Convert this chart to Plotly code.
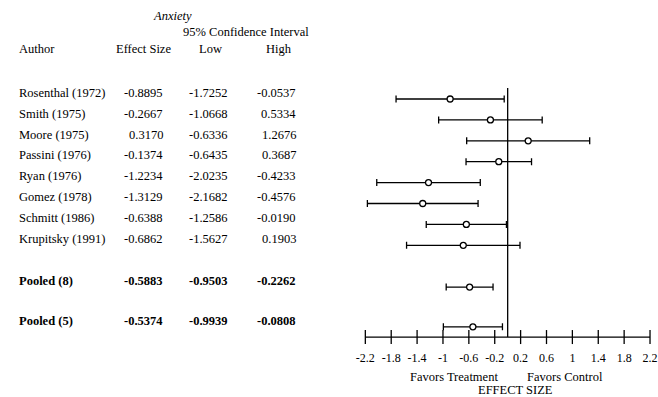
import plotly.graph_objects as go

# ---- data ----
authors = ["Rosenthal (1972)", "Smith (1975)", "Moore (1975)", "Passini (1976)",
           "Ryan (1976)", "Gomez (1978)", "Schmitt (1986)", "Krupitsky (1991)",
           "Pooled (8)", "Pooled (5)"]
effect = [-0.8895, -0.2667, 0.3170, -0.1374, -1.2234, -1.3129, -0.6388, -0.6862, -0.5883, -0.5374]
low = [-1.7252, -1.0668, -0.6336, -0.6435, -2.0235, -2.1682, -1.2586, -1.5627, -0.9503, -0.9939]
high = [-0.0537, 0.5334, 1.2676, 0.3687, -0.4233, -0.4576, -0.0190, 0.1903, -0.2262, -0.0808]
effect_txt = ["-0.8895", "-0.2667", "0.3170", "-0.1374", "-1.2234", "-1.3129", "-0.6388", "-0.6862", "-0.5883", "-0.5374"]
low_txt = ["-1.7252", "-1.0668", "-0.6336", "-0.6435", "-2.0235", "-2.1682", "-1.2586", "-1.5627", "-0.9503", "-0.9939"]
high_txt = ["-0.0537", "0.5334", "1.2676", "0.3687", "-0.4233", "-0.4576", "-0.0190", "0.1903", "-0.2262", "-0.0808"]
bold_rows = [False] * 8 + [True, True]
tick_vals = [-2.2, -1.8, -1.4, -1.0, -0.6, -0.2, 0.2, 0.6, 1.0, 1.4, 1.8, 2.2]
tick_text = ["-2.2", "-1.8", "-1.4", "-1", "-0.6", "-0.2", "0.2", "0.6", "1", "1.4", "1.8", "2.2"]

# ---- layout helpers ----
rows = [0, 1, 2, 3, 4, 5, 6, 7, 9, 10.9]   # vertical slot of each study
axis_row = 11.39
line_top = -0.53
text_shift = 0.3
FONT = "Liberation Serif"
FS = 12.5
W, H = 658, 397

fig = go.Figure()

# forest points with CI
fig.add_trace(go.Scatter(
    x=effect, y=rows, mode="markers",
    marker=dict(symbol="circle", size=6, color="white", line=dict(color="black", width=1.3)),
    error_x=dict(type="data", symmetric=False,
                 array=[h - e for h, e in zip(high, effect)],
                 arrayminus=[e - l for e, l in zip(effect, low)],
                 color="black", thickness=1.3, width=3.5),
    showlegend=False, hoverinfo="skip", cliponaxis=False))

# axis line and cross ticks
fig.add_trace(go.Scatter(
    x=[tick_vals[0], tick_vals[-1]], y=[axis_row, axis_row], mode="lines",
    line=dict(color="black", width=1.3), showlegend=False, hoverinfo="skip"))
fig.add_trace(go.Scatter(
    x=tick_vals, y=[axis_row] * len(tick_vals), mode="markers",
    marker=dict(symbol="line-ns", size=10, line=dict(color="black", width=1.3)),
    showlegend=False, hoverinfo="skip", cliponaxis=False))

# zero line
fig.add_shape(type="line", xref="x", yref="y", x0=0, x1=0, y0=line_top, y1=axis_row,
              line=dict(color="black", width=1.3))


def px(xp):
    return xp / W


def py(yp):
    return 1 - yp / H


ann = []
for i, a in enumerate(authors):
    y = rows[i] - text_shift
    b = bold_rows[i]

    def t(s):
        return f"<b>{s}</b>" if b else s
    ann.append(dict(x=px(17), y=y, xref="paper", yref="y", text=t(a), xanchor="left", yanchor="middle", showarrow=False))
    ann.append(dict(x=px(166), y=y, xref="paper", yref="y", text=t(effect_txt[i]), xanchor="right", yanchor="middle", showarrow=False))
    ann.append(dict(x=px(231), y=y, xref="paper", yref="y", text=t(low_txt[i]), xanchor="right", yanchor="middle", showarrow=False))
    ann.append(dict(x=px(299), y=y, xref="paper", yref="y", text=t(high_txt[i]), xanchor="right", yanchor="middle", showarrow=False))

headers = [
    ("<i>Anxiety</i>", 173, 16, "center"),
    ("95% Confidence Interval", 247, 32, "center"),
    ("Author", 17, 49, "left"),
    ("Effect Size", 144, 49, "center"),
    ("Low", 211, 49, "center"),
    ("High", 280, 49, "center"),
    ("Favors Treatment", 456, 377, "center"),
    ("Favors Control", 568, 377, "center"),
    ("EFFECT SIZE", 518, 390, "center"),
]
for txt, xp, yp, anc in headers:
    ann.append(dict(x=px(xp), y=py(yp), xref="paper", yref="paper", text=txt,
                    xanchor=anc, yanchor="middle", showarrow=False))

x_lo = -2.35
zero_px, scale = 510, 65.0
dom = [(zero_px + x_lo * scale) / W, 1.0]
x_hi = x_lo + (dom[1] - dom[0]) * W / scale

row0_px, row_h = 99, 20.9

fig.update_layout(
    width=W, height=H, margin=dict(l=0, r=0, t=0, b=0),
    paper_bgcolor="white", plot_bgcolor="white",
    font=dict(family=FONT, size=FS, color="black"),
    annotations=ann,
    xaxis=dict(domain=dom, range=[x_lo, x_hi], anchor="free", position=py(337),
               showgrid=False, zeroline=False, showline=False, ticks="",
               tickmode="array", tickvals=tick_vals, ticktext=tick_text,
               ticklabeloverflow="allow",
               ticklabelstandoff=12, tickfont=dict(family=FONT, size=12)),
    yaxis=dict(domain=[0, 1], range=[(H - row0_px) / row_h, -row0_px / row_h], visible=False,
               showgrid=False, zeroline=False),
)

fig.write_html("out.html", config={"displayModeBar": False},
               post_script="document.body.style.margin='0px';document.body.style.overflow='hidden';")
